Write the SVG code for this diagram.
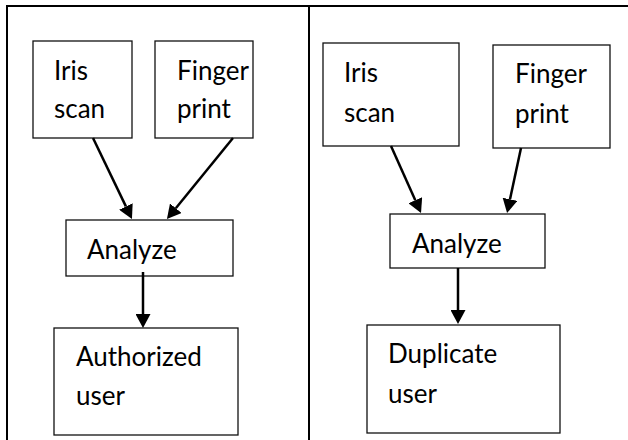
<svg xmlns="http://www.w3.org/2000/svg" width="628" height="440" viewBox="0 0 628 440">
  <style>
    .box { fill: #ffffff; stroke: #111111; stroke-width: 1.3; }
    .lbl { font-family: Lato, "Open Sans", "Liberation Sans", sans-serif; font-size: 26px; fill: #000000; }
    .rule { stroke: #000000; stroke-width: 2; fill: none; }
    .arrow { stroke: #000000; stroke-width: 2.5; fill: none; marker-end: url(#head); }
  </style>
  <defs>
    <marker id="head" markerUnits="userSpaceOnUse" markerWidth="15" markerHeight="15" viewBox="0 0 15 15" refX="0" refY="7.5" orient="auto">
      <path d="M0,0 L14,7.5 L0,15 Z" fill="#000000"/>
    </marker>
  </defs>

  <rect width="628" height="440" fill="#ffffff"/>

  <!-- table frame: top rule, left rule, column divider -->
  <g id="frame">
    <line class="rule" x1="6" y1="6" x2="628" y2="6"/>
    <line class="rule" x1="7" y1="5" x2="7" y2="440"/>
    <line class="rule" x1="309" y1="5" x2="309" y2="440"/>
  </g>

  <!-- left column -->
  <g id="iris-left">
    <rect class="box" x="33" y="41" width="99" height="97"/>
    <text class="lbl" x="54" y="80">Iris</text>
    <text class="lbl" x="54" y="118">scan</text>
  </g>
  <g id="finger-left">
    <rect class="box" x="155" y="41" width="98" height="97"/>
    <text class="lbl" x="177" y="80">Finger</text>
    <text class="lbl" x="177" y="118">print</text>
  </g>
  <g id="analyze-left">
    <rect class="box" x="66" y="220" width="167" height="56"/>
    <text class="lbl" x="87" y="259">Analyze</text>
  </g>
  <g id="authorized">
    <rect class="box" x="54" y="328" width="184" height="107"/>
    <text class="lbl" x="76" y="366">Authorized</text>
    <text class="lbl" x="76" y="405">user</text>
  </g>

  <!-- right column -->
  <g id="iris-right">
    <rect class="box" x="323" y="43" width="136" height="103"/>
    <text class="lbl" x="344" y="82">Iris</text>
    <text class="lbl" x="344" y="122">scan</text>
  </g>
  <g id="finger-right">
    <rect class="box" x="493" y="45" width="117" height="103"/>
    <text class="lbl" x="515" y="83">Finger</text>
    <text class="lbl" x="515" y="123">print</text>
  </g>
  <g id="analyze-right">
    <rect class="box" x="390" y="214" width="155" height="54"/>
    <text class="lbl" x="412" y="253">Analyze</text>
  </g>
  <g id="duplicate">
    <rect class="box" x="367" y="325" width="193" height="108"/>
    <text class="lbl" x="388" y="363">Duplicate</text>
    <text class="lbl" x="388" y="403">user</text>
  </g>

  <!-- connectors -->
  <g id="connectors">
    <line class="arrow" x1="93" y1="138" x2="125.9" y2="206.4"/>
    <line class="arrow" x1="233" y1="138" x2="175.8" y2="208.2"/>
    <line class="arrow" x1="143" y1="272" x2="143" y2="314"/>
    <line class="arrow" x1="391" y1="146" x2="415.3" y2="200.2"/>
    <line class="arrow" x1="521" y1="148" x2="510.0" y2="199.3"/>
    <line class="arrow" x1="458" y1="268" x2="458" y2="310"/>
  </g>
</svg>
